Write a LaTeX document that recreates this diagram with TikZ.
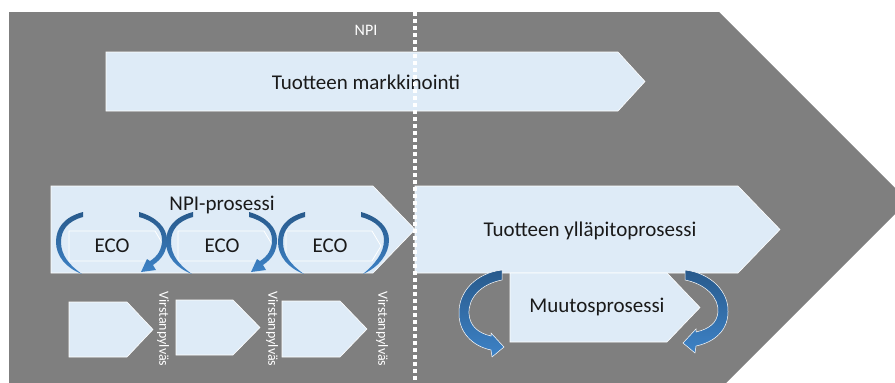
\documentclass[tikz,border=0pt]{standalone}
\usepackage{fontspec}
\setmainfont{Carlito}
\definecolor{bggray}{HTML}{7F7F7F}
\definecolor{boxfill}{HTML}{DEEBF7}
\definecolor{arcdark}{HTML}{285A8C}
\definecolor{arclight}{HTML}{3D82C6}
\definecolor{txt}{HTML}{1A1A1A}

\tikzset{
  panel/.style={fill=boxfill, draw=white, line width=0.6pt},
  ecobox/.style={fill=boxfill, draw=white, line width=0.8pt},
  lbl/.style={text=txt, font=\fontsize{21}{24}\selectfont, inner sep=0pt},
  whitelbl/.style={text=white, font=\fontsize{16}{18}\selectfont, inner sep=0pt},
  milestone/.style={text=white, font=\fontsize{14}{16}\selectfont, rotate=-90, inner sep=0pt},
  looparc/.style={top color=arcdark, bottom color=arclight, draw=none},
  ribbon/.style={top color=arcdark, bottom color=arclight, draw=white, line width=0.5pt},
  divider/.style={draw=white, line width=3.5pt, dash pattern=on 4pt off 3pt}
}

% pentagon arrow: left x, top y, shoulder x, tip x, bottom y
\newcommand\pentbox[6]{%
  \path[#1] (#2,#3) -- (#4,#3) -- (#5,{(#3+#6)/2}) -- (#4,#6) -- (#2,#6) -- cycle;}

% pair of curved arrows round one ECO step; #1 = 1 draws the arrow head
\newcommand\ecoloop[1]{%
  \path[looparc] (83,212) .. controls (64,217) and (56,228) .. (56,242)
     .. controls (56,256) and (66,268) .. (82,274)
     .. controls (69,265) and (61,255) .. (61,242)
     .. controls (61,230) and (68,221) .. (83,217) -- cycle;
  \ifnum#1=1
  \path[looparc] (139,212) .. controls (157,217) and (167,228) .. (167,240)
     .. controls (167,251) and (162,259) .. (153,265)
     -- (156,270) -- (141,272) -- (147,259) -- (150,261)
     .. controls (158,256) and (162,249) .. (162,240)
     .. controls (162,229) and (154,221) .. (139,217) -- cycle;
  \else
  \path[looparc] (139,212) .. controls (157,217) and (167,228) .. (167,240)
     .. controls (167,254) and (157,267) .. (141,274)
     .. controls (153,264) and (162,253) .. (162,240)
     .. controls (162,229) and (154,221) .. (139,217) -- cycle;
  \fi}

\begin{document}
\begin{tikzpicture}[x=1pt,y=-1pt]
\useasboundingbox (0,0) rectangle (895,383);
\clip (0,0) rectangle (895,383);

% grey product life-cycle arrow
\fill[bggray] (9,12) -- (719,12) -- (908,201) -- (723,386) -- (9,386) -- cycle;

% marketing band
\pentbox{panel}{106}{52}{618}{645}{111}
\node[lbl] (mark) at (366,82) {Tuotteen markkinointi};
\node[whitelbl] (npi) at (366,30) {NPI};

% NPI process with ECO steps
\pentbox{panel}{51}{186}{373}{415}{273}
\node[lbl] (npiproc) at (222,205) {NPI-prosessi};

\pentbox{ecobox}{69}{231}{155}{164}{261}
\pentbox{ecobox}{178}{231}{264}{273}{261}
\pentbox{ecobox}{286}{231}{372}{381}{261}
\node[lbl] (eco1) at (112,246) {ECO};
\node[lbl] (eco2) at (222,246) {ECO};
\node[lbl] (eco3) at (330,246) {ECO};

\ecoloop{1}
\begin{scope}[xshift=110pt]\ecoloop{1}\end{scope}
\begin{scope}[xshift=222pt]\ecoloop{0}\end{scope}

% milestones
\pentbox{panel}{69}{302}{127}{153}{357}
\pentbox{panel}{176}{300}{233}{260}{355}
\pentbox{panel}{282}{301}{340}{367}{357}
\node[milestone] (ms1) at (163,329) {Virstanpylväs};
\node[milestone] (ms2) at (272,329) {Virstanpylväs};
\node[milestone] (ms3) at (382,329) {Virstanpylväs};

% maintenance and change processes
\pentbox{panel}{415}{186}{738}{780}{273}
\node[lbl] (maint) at (590,231) {Tuotteen ylläpitoprosessi};
\pentbox{panel}{510}{273}{667}{700}{342}
\node[lbl] (change) at (597,307) {Muutosprosessi};

% curved ribbons round the change process
\path[ribbon] (502,270) -- (502,280)
   .. controls (481,284) and (468,298) .. (469,314)
   .. controls (470,326) and (478,333) .. (491,336)
   -- (491,333) -- (504,347) -- (492,357) -- (491,350)
   .. controls (472,346) and (459,332) .. (459,314)
   .. controls (458,292) and (476,273) .. (502,270) -- cycle;
\begin{scope}[xscale=-1, xshift=-1187pt]
\path[ribbon] (502,270) -- (502,280)
   .. controls (481,284) and (468,298) .. (469,312)
   .. controls (470,323) and (478,329) .. (491,332)
   -- (491,329) -- (504,343) -- (492,353) -- (491,346)
   .. controls (472,342) and (459,330) .. (459,312)
   .. controls (458,292) and (476,273) .. (502,270) -- cycle;
\end{scope}

% NPI boundary
\draw[divider] (415,12) -- (415,383);
\end{tikzpicture}
\end{document}
